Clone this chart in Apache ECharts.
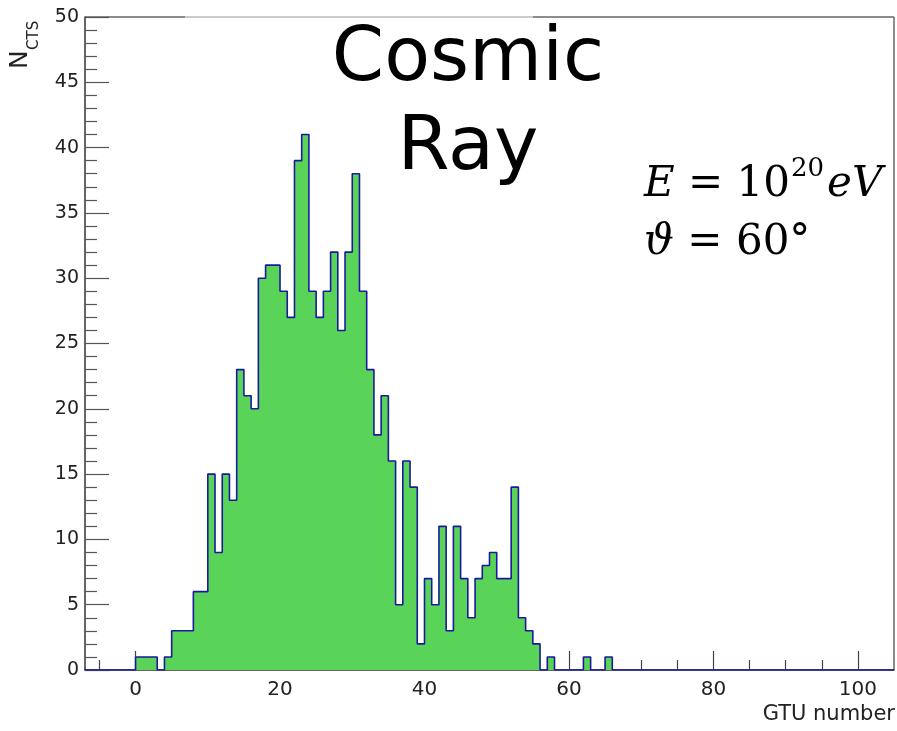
<!DOCTYPE html>
<html>
<head>
<meta charset="utf-8">
<script src="https://cdn.jsdelivr.net/npm/echarts@6/dist/echarts.min.js"></script>
<style>html,body{margin:0;padding:0;background:#fff;}#c{width:897px;height:731px;}</style>
</head>
<body>
<div id="c"></div>
<script>
// ---- data (bin width 1 GTU, first bin starts at 0) ----
const binStart = 0;
const counts = [1,1,1,0,1,3,3,3,6,6,15,9,15,13,23,21,20,30,31,31,29,27,39,41,29,27,29,32,26,32,38,29,23,18,21,16,5,16,14,2,7,5,11,3,11,7,4,7,8,9,7,7,14,4,3,2,0,1,0,0,0,0,1,0,0,1];
const xRange = [-7, 105];
const yRange = [0, 50];
const xMajorTicks = [0, 20, 40, 60, 80, 100];
const xMinorTicks = [-5, 5, 10, 15, 25, 30, 35, 45, 50, 55, 65, 70, 75, 85, 90, 95];
const titleLines = ['Cosmic', 'Ray'];
const xAxisTitle = 'GTU number';

// step data built from the bins
const stepData = [];
for (let x = xRange[0]; x < xRange[1]; x++) {
  const i = x - binStart;
  stepData.push([x, (i >= 0 && i < counts.length) ? counts[i] : 0]);
}
stepData.push([xRange[1], 0]);

const chart = echarts.init(document.getElementById('c'), null, {renderer: 'canvas'});
const G = {left: 85, right: 3, top: 17, bottom: 61};
const axisFont = 'DejaVu Sans';
const mathBase = {fontFamily: 'DejaVu Serif', fontWeight: 'normal', fontSize: 42, lineHeight: 58, color: '#000'};
chart.setOption({
  animation: false,
  backgroundColor: '#fff',
  grid: {left: G.left, right: G.right, top: G.top, bottom: G.bottom, containLabel: false},
  title: [{
    text: '{i|E}{n| = 10}{sup|20}{i|eV}\n{i|ϑ}{n| = 60°}',
    left: 639, top: 151,
    textStyle: {
      fontWeight: 'normal', fontFamily: 'DejaVu Serif', fontSize: 42,
      lineHeight: 58,
      rich: {
        i: Object.assign({}, mathBase, {fontStyle: 'italic'}),
        n: Object.assign({}, mathBase),
        sup: {fontFamily: 'DejaVu Serif', fontWeight: 'normal', fontSize: 26, lineHeight: 30, verticalAlign: 'top', color: '#000', padding: [0, 3, 0, 1]}
      }
    }
  }],
  xAxis: [{
    type: 'value', min: xRange[0], max: xRange[1], position: 'bottom',
    axisLine: {show: true, onZero: false, lineStyle: {color: '#333', width: 1.5}},
    axisTick: {show: true, inside: true, length: 19, customValues: xMajorTicks, lineStyle: {color: '#444', width: 1.2}},
    axisLabel: {show: true, customValues: xMajorTicks, margin: 10, fontFamily: axisFont, fontSize: 20, color: '#222'},
    splitLine: {show: false}
  }, {
    type: 'value', min: xRange[0], max: xRange[1], position: 'bottom', offset: 0,
    axisLine: {show: false},
    axisTick: {show: true, inside: true, length: 10, customValues: xMinorTicks, lineStyle: {color: '#444', width: 1.2}},
    axisLabel: {show: false},
    splitLine: {show: false}
  }],
  yAxis: [{
    type: 'value', min: yRange[0], max: yRange[1], interval: 5,
    axisLine: {show: true, onZero: false, lineStyle: {color: '#333', width: 1.5}},
    axisTick: {show: true, inside: true, length: 24, lineStyle: {color: '#555', width: 1.2}},
    minorTick: {show: true, splitNumber: 5, length: 12, lineStyle: {color: '#555', width: 1.2}},
    axisLabel: {show: true, margin: 6, fontFamily: axisFont, fontSize: 19, color: '#222'},
    splitLine: {show: false}
  }],
  series: [{
    type: 'line', xAxisIndex: 0, yAxisIndex: 0,
    step: 'end', data: stepData, showSymbol: false, symbol: 'none',
    lineStyle: {color: '#1a1a9c', width: 1.6},
    areaStyle: {color: '#59d459', opacity: 1},
    z: 3
  }],
  graphic: [
    {type: 'line', shape: {x1: 85, y1: 17, x2: 185, y2: 17}, style: {stroke: '#666', lineWidth: 1.5}},
    {type: 'line', shape: {x1: 185, y1: 17, x2: 533, y2: 17}, style: {stroke: '#bbb', lineWidth: 1.5}},
    {type: 'line', shape: {x1: 533, y1: 17, x2: 894, y2: 17}, style: {stroke: '#666', lineWidth: 1.5}},
    {type: 'line', shape: {x1: 894, y1: 17, x2: 894, y2: 670}, style: {stroke: '#666', lineWidth: 1.5}},
    {type: 'text', x: 468, y: 16, z: 10,
      style: {text: titleLines.join('\n'), font: '75px "DejaVu Sans"', fill: '#000', align: 'center', textAlign: 'center', verticalAlign: 'top', textVerticalAlign: 'top', lineHeight: 89}},
    {type: 'text', x: 895, y: 704,
      style: {text: xAxisTitle, font: '21px "DejaVu Sans"', fill: '#222', align: 'right', textAlign: 'right', verticalAlign: 'top', textVerticalAlign: 'top'}},
    {type: 'group', x: 33, y: 69, rotation: Math.PI / 2, children: [
      {type: 'text', x: 0, y: 0, style: {text: 'N', font: '25px "DejaVu Sans"', fill: '#222', align: 'left', textAlign: 'left', verticalAlign: 'bottom', textVerticalAlign: 'bottom'}},
      {type: 'text', x: 19, y: 9, style: {text: 'CTS', font: '15px "DejaVu Sans"', fill: '#222', align: 'left', textAlign: 'left', verticalAlign: 'bottom', textVerticalAlign: 'bottom'}}
    ]}
  ]
});
</script>
</body>
</html>
